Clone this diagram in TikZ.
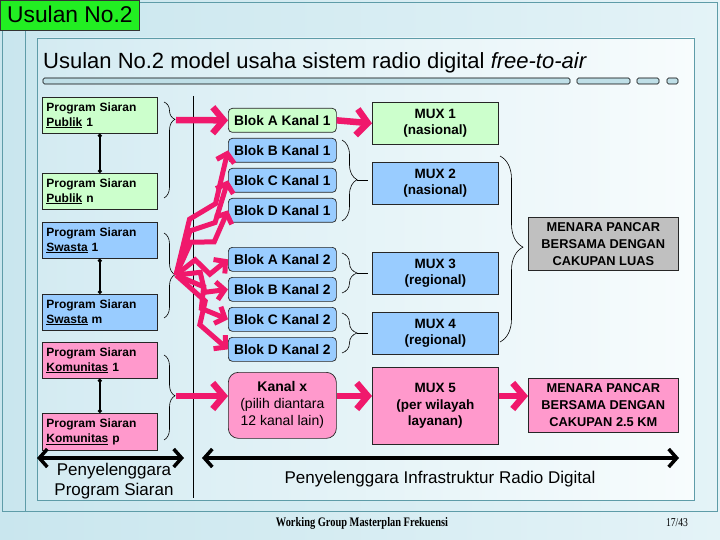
\documentclass[tikz,border=0pt]{standalone}
\usepackage{fontspec}
\setmainfont{Liberation Sans}
\newfontfamily\footfont[FakeStretch=0.8]{Liberation Serif}
\usetikzlibrary{arrows.meta,decorations.pathreplacing,calc}

\definecolor{bgL}{HTML}{C9E6EE}
\definecolor{bgR}{HTML}{E4F3F7}
\definecolor{panelL}{HTML}{D4EBF2}
\definecolor{panelR}{HTML}{F7FCFD}
\definecolor{frameteal}{HTML}{5E9CA8}
\definecolor{tabgreen}{HTML}{22EE22}
\definecolor{boxgreen}{HTML}{CCFFCC}
\definecolor{boxblue}{HTML}{99CCFF}
\definecolor{boxpink}{HTML}{FF99CC}
\definecolor{boxgray}{HTML}{C0C0C0}
\definecolor{arrowpink}{HTML}{F0186C}
\definecolor{barblue}{HTML}{BFDFE7}

\tikzset{
  lbox/.style={draw=black!85, line width=0.7pt, anchor=north west, minimum width=115pt,
    minimum height=36pt, text width=107pt, align=left, inner sep=0pt,
    font=\fontsize{12}{15}\selectfont\bfseries},
  bbox/.style={draw=black!85, line width=0.7pt, rounded corners=4pt, anchor=north west,
    minimum width=108pt, minimum height=24pt, inner sep=0pt,
    font=\fontsize{13.8}{15}\selectfont\bfseries},
  mbox/.style={draw=black!85, line width=0.7pt, anchor=north west, minimum width=126pt,
    minimum height=42pt, inner sep=0pt, align=center,
    font=\fontsize{13.5}{16.5}\selectfont\bfseries},
  menara/.style={draw=black!85, line width=0.7pt, anchor=north west, minimum width=150pt,
    minimum height=53pt, inner sep=0pt, align=center,
    font=\fontsize{12.8}{17}\selectfont\bfseries},
  brc/.style={draw=black, line width=0.6pt, decorate},
  parrow/.style={draw=arrowpink, line width=6.5pt,
    -{Straight Barb[length=11pt,width=26pt,line width=6.5pt]}},
  zz/.style={draw=arrowpink, line width=5pt, line join=miter,
    -{Straight Barb[length=8pt,width=18pt,line width=5pt]}},
  link/.style={draw=black, line width=1.6pt, {Circle[length=4pt]}-{Circle[length=4pt]}},
  darrow/.style={draw=black, line width=3.5pt,
    {Straight Barb[length=8pt,width=18pt,line width=3.5pt]}-{Straight Barb[length=8pt,width=18pt,line width=3.5pt]}},
  bar/.style={draw=black, line width=0.6pt, fill=barblue, rounded corners=1.5pt},
}

\begin{document}
\begin{tikzpicture}[x=1pt,y=-1pt]
\useasboundingbox (0,0) rectangle (720,540);
% backgrounds
\fill[left color=bgL, right color=bgR] (0,0) rectangle (720,540);
\draw[frameteal, line width=0.8pt] (2,2) rectangle (717,511);
\draw[frameteal, line width=0.8pt] (25,30) -- (25,511);
\fill[left color=panelL, right color=panelR] (37,38) rectangle (694,500);
\draw[frameteal, line width=0.8pt] (37,38) rectangle (694,500);

% tab
\node[draw=black!80, fill=tabgreen, line width=0.6pt, anchor=north west, minimum width=139pt,
  minimum height=30pt, inner sep=0pt] (tab) at (0,0) {};
\node[anchor=base west, inner sep=0pt, font=\fontsize{22.8}{24}\selectfont] (tabtxt) at (7,23) {Usulan No.2};

% title
\node[anchor=base west, inner sep=0pt, font=\fontsize{22}{24}\selectfont] (title) at (43,69)
  {Usulan No.2 model usaha sistem radio digital \textit{free-to-air}};
\draw[bar] (43,78) rectangle (570,84);
\draw[bar] (577,78) rectangle (630,84);
\draw[bar] (637,78) rectangle (659,84);
\draw[bar] (667,78) rectangle (678,84);

% separator
\draw[black, line width=0.7pt] (193,96) -- (193,498);

% left boxes
\node[lbox, fill=boxgreen] (pub1) at (42,97) {Program Siaran\\\underline{Publik} 1};
\node[lbox, fill=boxgreen] (pubn) at (42,173) {Program Siaran\\\underline{Publik} n};
\node[lbox, fill=boxblue] (sw1) at (42,222) {Program Siaran\\\underline{Swasta} 1};
\node[lbox, fill=boxblue] (swm) at (42,294) {Program Siaran\\\underline{Swasta} m};
\node[lbox, fill=boxpink] (kom1) at (42,342) {Program Siaran\\\underline{Komunitas} 1};
\node[lbox, fill=boxpink, minimum height=37pt] (komp) at (42,413) {Program Siaran\\\underline{Komunitas} p};

\draw[link] (pub1.south) -- (pubn.north);
\draw[link] (sw1.south) -- (swm.north);
\draw[link] (kom1.south) -- (komp.north);

% left braces
\draw[brc, decoration={brace, amplitude=11pt, aspect=0.18}] (164,102) -- (164,198);
\draw[brc, decoration={brace, amplitude=11pt, aspect=0.49}] (164,233) -- (164,318);
\draw[brc, decoration={brace, amplitude=11pt, aspect=0.48}] (164,355) -- (164,440);
\coordinate (tipPub) at (176,120);
\coordinate (tipSw) at (176,275);
\coordinate (tipKom) at (176,396);

% blocks
\node[bbox, fill=boxgreen] (b1A) at (228,108) {Blok A Kanal 1};
\node[bbox, fill=boxblue] (b1B) at (228,138) {Blok B Kanal 1};
\node[bbox, fill=boxblue] (b1C) at (228,168) {Blok C Kanal 1};
\node[bbox, fill=boxblue] (b1D) at (228,198) {Blok D Kanal 1};
\node[bbox, fill=boxblue] (b2A) at (228,247) {Blok A Kanal 2};
\node[bbox, fill=boxblue] (b2B) at (228,277) {Blok B Kanal 2};
\node[bbox, fill=boxblue] (b2C) at (228,307) {Blok C Kanal 2};
\node[bbox, fill=boxblue] (b2D) at (228,337) {Blok D Kanal 2};
\node[bbox, fill=boxpink, rounded corners=10pt, minimum height=66pt, align=center,
  font=\fontsize{14}{17}\selectfont] (kx) at (228,372)
  {\textbf{Kanal x}\\(pilih diantara\\12 kanal lain)};

% MUX boxes
\node[mbox, fill=boxgreen] (m1) at (372,102) {MUX 1\\(nasional)};
\node[mbox, fill=boxblue] (m2) at (372,162) {MUX 2\\(nasional)};
\node[mbox, fill=boxblue] (m3) at (372,252) {MUX 3\\(regional)};
\node[mbox, fill=boxblue] (m4) at (372,312) {MUX 4\\(regional)};
\node[mbox, fill=boxpink, minimum height=77pt] (m5) at (372,367) {MUX 5\\(per wilayah\\layanan)};

% menara
\node[menara, fill=boxgray] (mnL) at (528,217) {MENARA PANCAR\\BERSAMA DENGAN\\CAKUPAN LUAS};
\node[menara, fill=boxpink, minimum height=54pt] (mnK) at (528,378) {MENARA PANCAR\\BERSAMA DENGAN\\CAKUPAN 2.5 KM};

% small braces block -> mux
\draw[brc, decoration={brace, amplitude=15pt, aspect=0.49}] (342,140) -- (342,221);
\draw[brc, decoration={brace, amplitude=15pt, aspect=0.5}] (342,253) -- (342,293);
\draw[brc, decoration={brace, amplitude=15pt, aspect=0.5}] (342,313) -- (342,353);
\coordinate (tk1) at (357,180);
\coordinate (tk2) at (357,273);
\coordinate (tk3) at (357,333);
\draw[black, line width=0.7pt] (tk1) -- ($(m2.west |- tk1)+(-4,0)$);
\draw[black, line width=0.7pt] (tk2) -- ($(m3.west |- tk2)+(-4,0)$);
\draw[black, line width=0.7pt] (tk3) -- ($(m4.west |- tk3)+(-4,0)$);

% big brace mux -> menara
\draw[brc, decoration={brace, amplitude=23pt, aspect=0.49}] (500,156) -- (500,342);
\coordinate (tkM) at (523,247);

% pink arrows
\draw[parrow] (tipPub) -- (b1A.west);
\draw[parrow] (b1A.east) -- (m1.west);
\draw[parrow] (tipKom) -- (kx.west |- tipKom);
\draw[parrow] (kx.east |- tipKom) -- (m5.west |- tipKom);
\draw[parrow] (m5.east |- tipKom) -- (mnK.west |- tipKom);

% lightning arrows
\foreach \t in {b1B,b1C,b1D,b2A,b2B,b2C,b2D}{
  \draw[zz] (tipSw) -- ($(tipSw)!0.42!(\t.west)!9pt!90:(\t.west)$)
    -- ($(tipSw)!0.6!(\t.west)!9pt!-90:(\t.west)$) -- (\t.west);
}

% bottom arrows and labels
\coordinate (la1) at (37,458);
\coordinate (la2) at (184,458);
\coordinate (ra1) at (202,458);
\coordinate (ra2) at (679,458);
\draw[darrow] (la1) -- (la2);
\draw[darrow] (ra1) -- (ra2);
\node[align=center, font=\fontsize{17}{20}\selectfont, inner sep=0pt] (lblL) at (114,481)
  {Penyelenggara\\Program Siaran};
\node[font=\fontsize{17}{20}\selectfont, inner sep=0pt] (lblR) at (440,479)
  {Penyelenggara Infrastruktur Radio Digital};

% footer
\node[font=\footfont\fontsize{13}{14}\selectfont\bfseries, inner sep=0pt] (foot) at (362,523)
  {Working Group Masterplan Frekuensi};
\node[font=\footfont\fontsize{12}{14}\selectfont, inner sep=0pt] (page) at (677,523) {17/43};
\end{tikzpicture}
\end{document}
